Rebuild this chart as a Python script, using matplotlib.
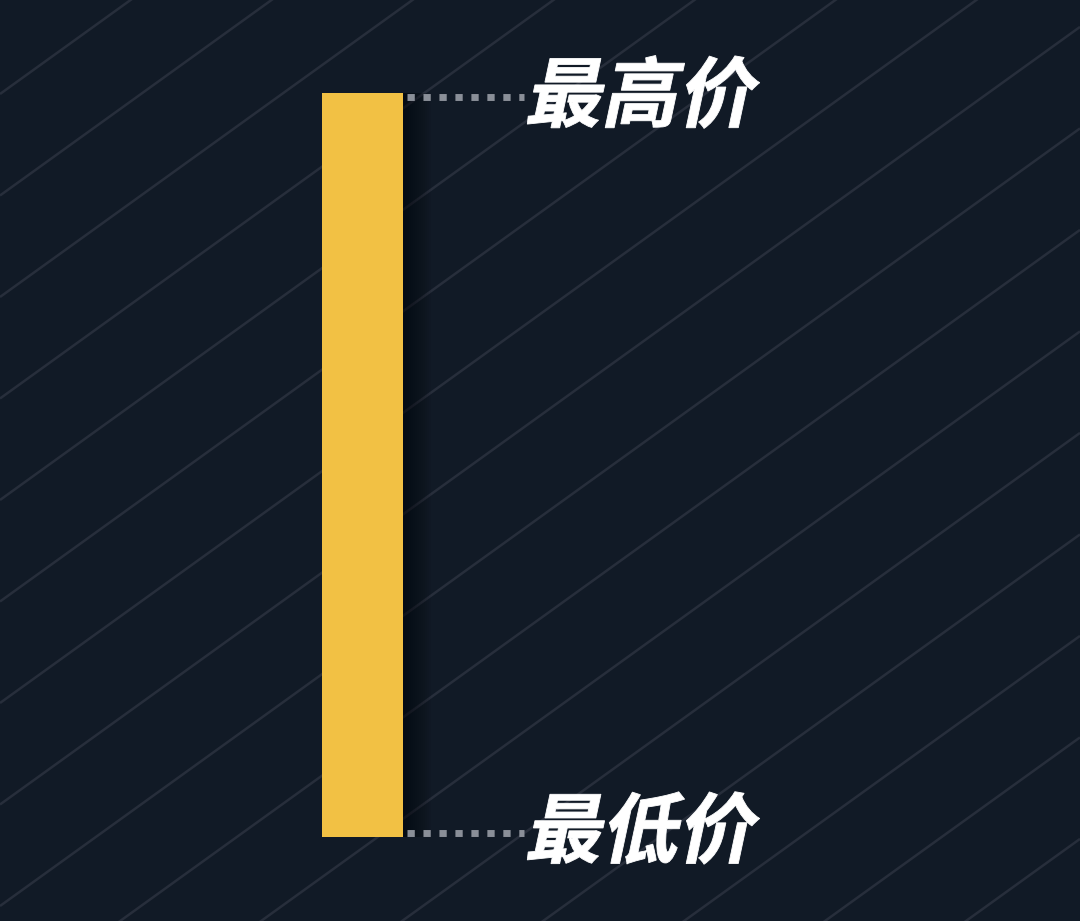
import numpy as np
import matplotlib
matplotlib.use("Agg")
import matplotlib.pyplot as plt
from matplotlib.patches import Rectangle
from matplotlib.patheffects import AbstractPathEffect
from matplotlib.transforms import Affine2D

# 数据：一根K线（只有最高价和最低价）
price_labels = ["最高价", "最低价"]
price_high = 100.0
price_low = 0.0

BG = "#111a26"
STRIPE = "#272e3b"
BAR = "#f2c144"
DOT = "#8a8f98"

plt.rcParams['font.family'] = ['Noto Sans CJK SC', 'DejaVu Sans']


class SkewStroke(AbstractPathEffect):
    """把文字斜切成斜体，同时描边加粗"""
    def __init__(self, skew=13, lw=2.5, color="white"):
        super().__init__()
        self.skew = skew
        self.lw = lw
        self.color = color

    def draw_path(self, renderer, gc, tpath, affine, rgbFace=None):
        tr = Affine2D().skew_deg(self.skew, 0) + affine
        gc0 = renderer.new_gc()
        gc0.copy_properties(gc)
        gc0.set_linewidth(self.lw)
        gc0.set_foreground(self.color)
        gc0.set_joinstyle("miter")
        renderer.draw_path(gc0, tpath, tr, rgbFace)
        gc0.restore()


W, H = 1080, 921
fig = plt.figure(figsize=(W / 100, H / 100), dpi=100, facecolor=BG)

# 背景斜线（像素坐标）
bg = fig.add_axes([0, 0, 1, 1])
bg.set_xlim(0, W)
bg.set_ylim(H, 0)
bg.axis("off")
bg.set_facecolor(BG)
xs = np.array([0, W])
for k in range(0, 18):
    y0 = 94 + 101.5 * k
    bg.plot(xs, y0 - 0.72 * xs, color=STRIPE, lw=1.8, solid_capstyle="butt")

# 前景：价格坐标
ax = fig.add_axes([0, 0, 1, 1])
ax.patch.set_alpha(0)
ax.axis("off")
px_per_unit = (837 - 93) / (price_high - price_low)
ax.set_xlim(0, W)
ax.set_ylim(price_high - (H - 93) / px_per_unit, price_high + 93 / px_per_unit)

bar_x, bar_w = 322, 81

# 柱子右侧阴影
for i in range(14):
    ax.add_patch(Rectangle((bar_x + bar_w, price_low), 2 + i * 2, price_high - price_low,
                           facecolor="#05080d", edgecolor="none", alpha=0.06, zorder=2))

ax.bar(bar_x, price_high - price_low, bottom=price_low, width=bar_w, align="edge",
       color=BAR, edgecolor="none", zorder=3)

# 虚线 + 标签
for label, price, dy, ty in zip(price_labels, [price_high, price_low],
                                [0.6, -0.55], [0.7, -0.4]):
    ax.plot([bar_x + bar_w + 4, 524], [price - dy, price - dy], color=DOT, lw=5,
            linestyle=(0, (1.05, 1.25)), dash_capstyle="butt", zorder=3)
    ax.text(524, price - ty, label, fontsize=55, fontweight="heavy", color="white",
            ha="left", va="center", zorder=4,
            path_effects=[SkewStroke(skew=12, lw=0.6, color="white")])

fig.savefig("out.png", dpi=100, facecolor=BG)
